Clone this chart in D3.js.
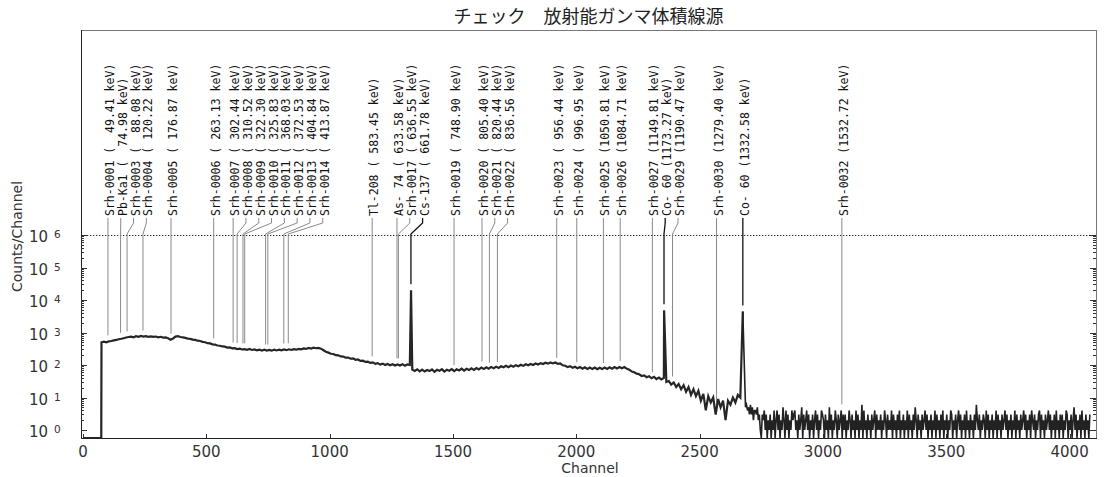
<!DOCTYPE html>
<html>
<head>
<meta charset="utf-8">
<script src="https://cdn.jsdelivr.net/npm/d3@7"></script>
<style>
  body { margin: 0; background: #fff; }
  svg { display: block; }
</style>
</head>
<body>
<div id="chart"></div>
<script>
// chart text
const title = 'チェック　放射能ガンマ体積線源'
const xLabel = 'Channel'
const yLabel = 'Counts/Channel'
const xTicks = [0, 500, 1000, 1500, 2000, 2500, 3000, 3500, 4000]
const yDecades = [0, 1, 2, 3, 4, 5, 6]

// spectrum: nothing below the LLD, then continuum sampled every 10 ch
const lldChannel = 75
const contStart = 75
const contStep = 10
const contCounts = [
  500, 520, 498, 535, 548, 572, 590, 618, 640, 668,
  700, 728, 745, 712, 772, 740, 785, 748, 770, 735,
  762, 730, 752, 712, 738, 700, 705, 665, 600, 655,
  745, 770, 728, 705, 680, 648, 635, 605, 590, 560,
  548, 515, 500, 468, 462, 432, 425, 398, 392, 372,
  368, 345, 348, 325, 330, 310, 318, 300, 306, 292,
  310, 290, 302, 284, 298, 280, 296, 278, 292, 276,
  294, 280, 298, 282, 300, 286, 304, 290, 308, 296,
  314, 302, 322, 312, 334, 322, 342, 328, 336, 318,
  285, 255, 240, 222, 218, 200, 198, 184, 182, 168,
  170, 156, 160, 145, 148, 134, 136, 124, 126, 116,
  120, 108, 114, 103, 110, 100, 108, 98, 106, 97,
  104, 96, 106, 95, 104, 100, 72, 66, 74, 64,
  72, 63, 70, 65, 73, 62, 71, 66, 74, 63,
  72, 67, 75, 65, 74, 68, 77, 67, 76, 70,
  79, 71, 80, 73, 83, 75, 85, 77, 87, 80,
  89, 81, 91, 85, 94, 86, 96, 89, 99, 92,
  102, 94, 105, 98, 108, 100, 111, 104, 114, 107,
  117, 110, 120, 112, 119, 108, 111, 98, 95, 86,
  92, 82, 88, 79, 86, 77, 85, 76, 84, 75,
  83, 74, 82, 75, 84, 76, 85, 77, 86, 78,
  87, 79, 86, 76, 72, 63, 60, 54, 52, 46,
  48, 42, 45, 39, 43, 37, 41, 36, 40, 30,
  32, 25, 29, 21, 26, 18, 24, 15, 21, 12,
  18, 11, 16, 8, 13, 4, 11, 7, 10, 3,
  9, 5, 8, 2, 8, 6, 10, 7, 12, 10
]

// full-energy peaks (Cs-137, Co-60, Co-60): channel and top count
const peakChannels = [1330, 2356, 2675]
const peakHeights = [20000, 4800, 4400]

// above the Co-60 edge: low counts, every 4 ch
const tailStart = 2686
const tailStep = 4
const tailCounts = (
  '56453635244352310324130213021402413021520413021423' +
  '41203125031241302130241302143203120513021420312403' +
  '13021420312041302160412031203124031213021420312140' +
  '31203140213021403120315203120312413021302140312031' +
  '40213021430213024130213041203120316213021320413021' +
  '30214031203124130213021403120312413021304213021340' +
  '31203124130213041203130214302130251302130412031203'
).split('').map(Number)

// peak search results
const peakNames = [
  'Srh-0001', 'Pb-Ka1', 'Srh-0003', 'Srh-0004', 'Srh-0005', 'Srh-0006',
  'Srh-0007', 'Srh-0008', 'Srh-0009', 'Srh-0010', 'Srh-0011', 'Srh-0012',
  'Srh-0013', 'Srh-0014', 'Tl-208', 'As- 74', 'Srh-0017', 'Cs-137',
  'Srh-0019', 'Srh-0020', 'Srh-0021', 'Srh-0022', 'Srh-0023', 'Srh-0024',
  'Srh-0025', 'Srh-0026', 'Srh-0027', 'Co- 60', 'Srh-0029', 'Srh-0030',
  'Co- 60', 'Srh-0032'
]
const peakEnergies = [
  49.41, 74.98, 88.08, 120.22, 176.87, 263.13,
  302.44, 310.52, 322.30, 325.83, 368.03, 372.53,
  404.84, 413.87, 583.45, 633.58, 636.55, 661.78,
  748.90, 805.40, 820.44, 836.56, 956.44, 996.95,
  1050.81, 1084.71, 1149.81, 1173.27, 1190.47, 1279.40,
  1332.58, 1532.72
]
const identified = ['Cs-137', 'Co- 60']

// energy calibration, ch = offset + gain * keV
const calOffset = 2
const calGain = 2.006

const W = 1104
const H = 477
const plot = { left: 81, right: 1096, top: 30, bottom: 438 }

const svg = d3.select('#chart').append('svg')
  .attr('width', W)
  .attr('height', H)
  .style('font-family', '"DejaVu Sans", Verdana, sans-serif')

const x = d3.scaleLinear().domain([0, 4107]).range([83, 1096])
const y = d3.scaleLog().domain([1, 1e6]).range([430, 235])
const yc = c => (c > 0 ? y(c) : plot.bottom)

// spectrum points
const spec = [{ ch: 0, c: 0 }, { ch: lldChannel - 1, c: 0 }]
contCounts.forEach((c, i) => spec.push({ ch: contStart + i * contStep, c }))
peakChannels.forEach((ch, i) => spec.push({ ch, c: peakHeights[i] }))
tailCounts.forEach((c, i) => spec.push({ ch: tailStart + i * tailStep, c }))
spec.sort((a, b) => a.ch - b.ch)

// frame
svg.append('rect')
  .attr('x', plot.left + 0.5)
  .attr('y', plot.top + 0.5)
  .attr('width', plot.right - plot.left)
  .attr('height', plot.bottom - plot.top)
  .attr('fill', 'none')
  .attr('stroke', '#777')
svg.append('path')
  .attr('d', `M${plot.left + 0.5},${plot.top}V${plot.bottom + 0.5}H${plot.right + 1}`)
  .attr('fill', 'none')
  .attr('stroke', '#222')

// title
svg.append('text')
  .attr('x', (plot.left + plot.right) / 2)
  .attr('y', 23)
  .attr('text-anchor', 'middle')
  .style('font-family', '"Noto Sans CJK JP", sans-serif')
  .style('font-size', '18px')
  .attr('fill', '#222')
  .text(title)

// y ticks, both sides
const minor = []
yDecades.slice(0, -1).forEach(k => {
  for (let m = 2; m < 10; m++) minor.push(m * Math.pow(10, k))
})
const gy = svg.append('g').attr('stroke', '#333')
yDecades.forEach(k => {
  const yy = Math.round(y(Math.pow(10, k))) + 0.5
  gy.append('line').attr('x1', plot.left).attr('x2', plot.left + 6).attr('y1', yy).attr('y2', yy)
  gy.append('line').attr('x1', plot.right).attr('x2', plot.right - 6).attr('y1', yy).attr('y2', yy)
})
minor.forEach(v => {
  const yy = Math.round(y(v)) + 0.5
  gy.append('line').attr('x1', plot.left).attr('x2', plot.left + 3).attr('y1', yy).attr('y2', yy)
  gy.append('line').attr('x1', plot.right).attr('x2', plot.right - 3).attr('y1', yy).attr('y2', yy)
})

// y tick labels 10^k
yDecades.forEach(k => {
  const t = svg.append('text')
    .attr('x', 29)
    .attr('y', y(Math.pow(10, k)) + 7)
    .attr('fill', '#333')
    .style('font-size', '15px')
  t.append('tspan').text('10')
  t.append('tspan').attr('dx', 6).attr('dy', -4).style('font-size', '10.5px').text(k)
})

// x ticks and labels
xTicks.forEach(t => {
  const xx = Math.round(x(t)) + 0.5
  svg.append('line')
    .attr('x1', xx).attr('x2', xx)
    .attr('y1', plot.bottom).attr('y2', plot.bottom - 4)
    .attr('stroke', '#333')
  svg.append('text')
    .attr('x', x(t))
    .attr('y', 457)
    .attr('text-anchor', 'middle')
    .attr('fill', '#333')
    .style('font-size', '15px')
    .text(t)
})

svg.append('text')
  .attr('x', 590)
  .attr('y', 473)
  .attr('text-anchor', 'middle')
  .attr('fill', '#333')
  .style('font-size', '14px')
  .text(xLabel)

svg.append('text')
  .attr('transform', 'translate(22,292) rotate(-90)')
  .attr('fill', '#333')
  .style('font-size', '14px')
  .text(yLabel)

// dotted line at 10^6
svg.append('line')
  .attr('x1', plot.left).attr('x2', plot.right)
  .attr('y1', Math.round(y(1e6)) + 0.5).attr('y2', Math.round(y(1e6)) + 0.5)
  .attr('stroke', '#222')
  .attr('stroke-dasharray', '1.3,1.7')

// peak labels: spread to the right when they collide
const labelGap = 12.8
const labels = peakNames.map((name, i) => ({
  name,
  e: peakEnergies[i],
  ch: calOffset + calGain * peakEnergies[i]
}))
let prev = -Infinity
labels.forEach(d => {
  d.px = x(d.ch)
  d.lx = Math.max(d.px, prev + labelGap)
  prev = d.lx
  const near = spec.filter(p => Math.abs(p.ch - d.ch) <= 5)
  d.top = d3.max(near, p => p.c) || 1
})

const textBottom = 216
const dotY = y(1e6)
svg.append('g').selectAll('path')
  .data(labels)
  .join('path')
  .attr('d', d => `M${d.lx},${textBottom + 2}V${textBottom + 7}L${d.px},${dotY - 1}V${yc(d.top) - 6}`)
  .attr('fill', 'none')
  .attr('stroke', d => (identified.includes(d.name) ? '#111' : '#8a8a8a'))
  .attr('stroke-width', d => (identified.includes(d.name) ? 1.3 : 1))

// spectrum
const line = d3.line().x(d => x(d.ch)).y(d => yc(d.c))
svg.append('path')
  .attr('d', line(spec.filter(d => d.ch <= peakChannels[2])))
  .attr('fill', 'none')
  .attr('stroke', '#262626')
  .attr('stroke-width', 2.2)
svg.append('path')
  .attr('d', line(spec.filter(d => d.ch >= peakChannels[2])))
  .attr('fill', 'none')
  .attr('stroke', '#222')
  .attr('stroke-width', 1.6)

// label text
svg.append('g').selectAll('text')
  .data(labels)
  .join('text')
  .attr('transform', d => `translate(${d.lx + 2},${textBottom}) rotate(-90)`)
  .attr('dy', '0.35em')
  .attr('fill', '#111')
  .style('font-family', '"DejaVu Sans Mono", "Liberation Mono", monospace')
  .style('font-size', '11.5px')
  .style('white-space', 'pre')
  .text(d => `${d.name} (${d.e.toFixed(2).padStart(7, ' ')} keV)`)
</script>
</body>
</html>
